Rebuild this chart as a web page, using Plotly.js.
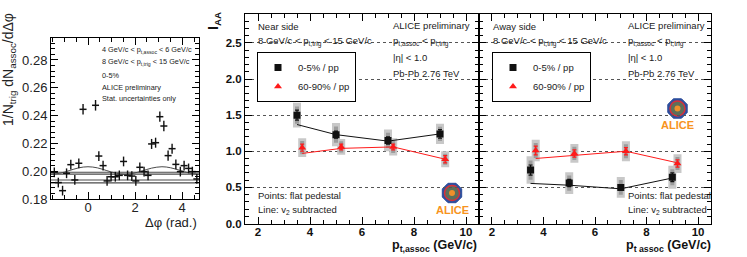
<!DOCTYPE html>
<html><head><meta charset="utf-8">
<script src="https://cdn.plot.ly/plotly-3.0.1.min.js"></script>
<style>html,body{margin:0;padding:0;background:#fff}#c{width:747px;height:257px}</style>
</head><body><div id="c"></div>
<script>
// ---------- Left panel: azimuthal correlation (0-5%) ----------
const dphi = [-1.43,-1.26,-1.08,-0.91,-0.73,-0.56,-0.39,-0.21,0.32,0.46,0.64,0.81,0.98,1.16,1.33,1.51,1.68,1.86,2.03,2.20,2.38,2.55,2.70,2.87,3.05,3.22,3.40,3.57,3.73,3.92,4.08,4.27,4.43,4.62];
const corr = [0.1992,0.1918,0.1860,0.1985,0.2047,0.1937,0.2057,0.2445,0.2474,0.2109,0.2040,0.1930,0.1960,0.1960,0.1970,0.2070,0.1970,0.1965,0.1930,0.2028,0.1997,0.1970,0.2196,0.2205,0.2392,0.2325,0.2112,0.2162,0.2049,0.1997,0.2040,0.2020,0.1997,0.1944];
const corrErr = [0.0035,0.0035,0.0035,0.0035,0.0035,0.0035,0.0035,0.0038,0.0038,0.0035,0.0035,0.0035,0.0035,0.0035,0.0035,0.0035,0.0035,0.0035,0.0035,0.0035,0.0035,0.0035,0.0036,0.0036,0.0037,0.0037,0.0036,0.0036,0.0035,0.0035,0.0035,0.0035,0.0035,0.0035];
const pedX = [-1.5708, 4.7124];
const pedLevels = [0.1992, 0.1979, 0.1937, 0.1916];
const v2X = [-1.57,-1.2,-0.8,-0.4,0,0.4,0.8,1.2,1.57,1.9,2.3,2.7,3.14,3.5,3.9,4.3,4.71];
const v2Y = [0.1978,0.1985,0.2004,0.2024,0.2032,0.2024,0.2004,0.1985,0.1978,0.1984,0.2002,0.2022,0.2032,0.2025,0.2006,0.1987,0.1978];

// ---------- I_AA panels ----------
const ptCentral = [3.5, 5.0, 7.0, 9.0];
const ptPeriph  = [3.7, 5.2, 7.2, 9.2];
// near side
const nearCentral     = [1.50, 1.23, 1.15, 1.24];
const nearCentralStat = [0.07, 0.05, 0.05, 0.06];
const nearCentralSys  = [0.17, 0.16, 0.15, 0.14];
const nearCentralV2   = [1.37, 1.23, 1.14, 1.24];
const nearPeriph      = [1.05, 1.06, 1.06, 0.89];
const nearPeriphStat  = [0.05, 0.04, 0.04, 0.05];
const nearPeriphSys   = [0.13, 0.11, 0.12, 0.11];
const nearPeriphV2    = [0.97, 1.04, 1.06, 0.89];
// away side
const awayCentral     = [0.74, 0.56, 0.50, 0.64];
const awayCentralStat = [0.07, 0.05, 0.04, 0.06];
const awayCentralSys  = [0.19, 0.15, 0.145, 0.16];
const awayCentralV2   = [0.555, 0.53, 0.48, 0.63];
const awayPeriph      = [1.01, 0.97, 1.00, 0.83];
const awayPeriphStat  = [0.06, 0.05, 0.05, 0.05];
const awayPeriphSys   = [0.15, 0.13, 0.14, 0.13];
const awayPeriphV2    = [0.90, 0.94, 1.00, 0.84];

const xTicksIAA = [2, 4, 6, 8, 10];
const yTicksIAA = [0, 0.5, 1, 1.5, 2, 2.5];
const yTickTextIAA = ['0.0','0.5','1.0','1.5','2.0','2.5'];
const labCentral = '0-5% / pp';
const labPeriph = '60-90% / pp';

// ---------- helpers ----------
const W = 747, H = 257;
const px = x => x / W;
const py = y => 1 - y / H;
const FONT = 'Liberation Sans, Arial, Helvetica, sans-serif';
const RED = '#ff1a1a';

const traces = [];
// left panel
pedLevels.forEach(v => traces.push({x: pedX, y: [v, v], xaxis: 'x', yaxis: 'y', mode: 'lines',
  line: {color: '#4a4a4a', width: 1.1}, showlegend: false, hoverinfo: 'skip'}));
traces.push({x: v2X, y: v2Y, xaxis: 'x', yaxis: 'y', mode: 'lines', line: {color: '#4a4a4a', width: 1, shape: 'spline'}, showlegend: false});
traces.push({x: dphi, y: corr, xaxis: 'x', yaxis: 'y', mode: 'markers',
  marker: {symbol: 'line-ew-open', size: 5, color: '#111', line: {color: '#111', width: 1.5}},
  error_y: {type: 'data', array: corrErr, color: '#111', thickness: 1.4, width: 0}, showlegend: false});

function iaaPanel(xa, ya, c, cStat, cSys, cV2, p, pStat, pSys, pV2, leg) {
  const sysTr = (xs, ys, sys, col, th) => ({x: xs, y: ys, xaxis: xa, yaxis: ya, mode: 'markers',
    marker: {size: 1, color: 'rgba(0,0,0,0)'}, error_y: {type: 'data', array: sys, color: col, thickness: th, width: 0},
    showlegend: false, hoverinfo: 'skip'});
  traces.push(sysTr(ptCentral, c, cSys, '#c8c8c8', 8));
  traces.push(sysTr(ptPeriph, p, pSys, '#c8c8c8', 8));
  traces.push(sysTr(ptCentral, c, cSys.map(v => v * 0.7), '#9c9c9c', 4));
  traces.push(sysTr(ptPeriph, p, pSys.map(v => v * 0.7), '#9c9c9c', 4));
  traces.push({x: ptCentral, y: cV2, xaxis: xa, yaxis: ya, mode: 'lines', line: {color: '#111', width: 1}, showlegend: false});
  traces.push({x: ptPeriph, y: pV2, xaxis: xa, yaxis: ya, mode: 'lines', line: {color: RED, width: 1}, showlegend: false});
  traces.push({x: ptCentral, y: c, xaxis: xa, yaxis: ya, mode: 'markers', name: labCentral, legend: leg, showlegend: true,
    marker: {symbol: 'square', size: 7, color: '#111'},
    error_y: {type: 'data', array: cStat, color: '#111', thickness: 1.2, width: 2}});
  traces.push({x: ptPeriph, y: p, xaxis: xa, yaxis: ya, mode: 'markers', name: labPeriph, legend: leg, showlegend: true,
    marker: {symbol: 'triangle-up', size: 7, color: RED},
    error_y: {type: 'data', array: pStat, color: RED, thickness: 1.2, width: 2}});
}
iaaPanel('x2', 'y2', nearCentral, nearCentralStat, nearCentralSys, nearCentralV2, nearPeriph, nearPeriphStat, nearPeriphSys, nearPeriphV2, 'legend');
iaaPanel('x3', 'y3', awayCentral, awayCentralStat, awayCentralSys, awayCentralV2, awayPeriph, awayPeriphStat, awayPeriphSys, awayPeriphV2, 'legend2');

const axBase = {showline: true, linecolor: '#000', linewidth: 1, mirror: 'ticks', ticks: 'inside', ticklen: 7,
  tickcolor: '#000', tickwidth: 1, zeroline: false, showgrid: false, fixedrange: true};

const iaaX = (dom) => Object.assign({}, axBase, {domain: dom, range: [1.5, 10.5], tickvals: xTicksIAA,
  tickfont: {family: FONT, size: 11.5, color: '#111', weight: 700}, ticklabelstandoff: -2,
  minor: {dtick: 0.5, tick0: 0, ticks: 'inside', ticklen: 4, tickcolor: '#000'}});
const iaaY = (dom, anchor, labels) => Object.assign({}, axBase, {domain: dom, range: [0, 2.9], anchor: anchor,
  tickvals: yTicksIAA, ticktext: yTickTextIAA, showticklabels: labels,
  tickfont: {family: FONT, size: 11.5, color: '#111', weight: 700},
  showgrid: true, gridcolor: '#555', griddash: 'dot', gridwidth: 1,
  minor: {dtick: 0.1, tick0: 0, ticks: 'inside', ticklen: 4, tickcolor: '#000', showgrid: false}});

const yDomIAA = [py(223.5), py(14)];

const annotations = [];
const ann = (x, y, text, size, opts) => annotations.push(Object.assign({xref: 'paper', yref: 'paper', x: px(x), y: py(y),
  text: text, showarrow: false, xanchor: 'left', yanchor: 'middle', font: {family: FONT, size: size, color: '#222'}}, opts || {}));

// left panel texts
ann(9, 70, '1/N<sub>trig</sub> dN<sub>assoc</sub>/dΔφ', 14, {textangle: -90, xanchor: 'center', font: {family: FONT, size: 14, color: '#222'}});
ann(199, 222, 'Δφ (rad.)', 13, {xanchor: 'right'});
ann(100, 50, '4 GeV/c &lt; p<sub>t,assoc</sub> &lt; 6 GeV/c', 7.3);
ann(100, 62, '8 GeV/c &lt; p<sub>t,trig</sub> &lt; 15 GeV/c', 7.3);
ann(100, 75, '0-5%', 7.3);
ann(100, 87, 'ALICE preliminary', 7.3);
ann(100, 99, 'Stat. uncertainties only', 7.3);

// IAA texts
ann(214, 21, 'I<sub>AA</sub>', 14, {textangle: -90, xanchor: 'center', font: {family: FONT, size: 14, color: '#111', weight: 700}});
[[0, 'Near side'], [235, 'Away side']].forEach(([dx, side]) => {
  ann(256 + dx, 27, side, 9.5);
  ann(256 + dx, 41, '8 GeV/c &lt; p<sub>t,trig</sub> &lt; 15 GeV/c', 9.5);
  ann(391 + dx, 26, 'ALICE preliminary', 9.5);
  ann(391 + dx, 41, 'p<sub>t,assoc</sub> &lt; p<sub>t,trig</sub>', 9.5);
  ann(391 + dx, 57, '|η| &lt; 1.0', 9.5);
  ann(391 + dx, 73, 'Pb-Pb 2.76 TeV', 9.5);
});
ann(256, 195, 'Points: flat pedestal', 9.5);
ann(256, 210, 'Line: v<sub>2</sub> subtracted', 9.5);
ann(626, 195, 'Points: flat pedestal', 9.5);
ann(626, 210, 'Line: v<sub>2</sub> subtracted', 9.5);
ann(479, 246, 'p<sub>t,assoc</sub> (GeV/c)', 12.5, {xanchor: 'right', font: {family: FONT, size: 12.5, color: '#111', weight: 700}});
ann(713, 246, 'p<sub>t assoc</sub> (GeV/c)', 12.5, {xanchor: 'right', font: {family: FONT, size: 12.5, color: '#111', weight: 700}});

// ALICE logos (decoration)
const shapes = [];
function logo(cx, cy, wx0, wx1) {
  shapes.push({type: 'rect', xref: 'paper', yref: 'paper', layer: 'between', x0: px(wx0), x1: px(wx1), y0: py(cy + 26), y1: py(cy - 13),
    fillcolor: '#fff', line: {width: 0}});
  const r = 10.5, pts = [];
  for (let i = 0; i < 8; i++) { const a = Math.PI / 8 + i * Math.PI / 4; pts.push([cx + r * Math.cos(a), cy + r * Math.sin(a)]); }
  const path = 'M' + pts.map(p => px(p[0]).toFixed(5) + ',' + py(p[1]).toFixed(5)).join('L') + 'Z';
  shapes.push({type: 'path', xref: 'paper', yref: 'paper', layer: 'between', path: path, fillcolor: '#2d4f9e', line: {color: '#2a4a9a', width: 1}});
  shapes.push({type: 'circle', xref: 'paper', yref: 'paper', layer: 'between', x0: px(cx - 7.5), x1: px(cx + 7.5), y0: py(cy + 7.5), y1: py(cy - 7.5),
    fillcolor: '#5d6f5a', line: {color: '#d8303a', width: 1.5}});
  shapes.push({type: 'circle', xref: 'paper', yref: 'paper', layer: 'between', x0: px(cx - 3), x1: px(cx + 3), y0: py(cy + 3), y1: py(cy - 3),
    fillcolor: '#f0902a', line: {width: 0}});
  annotations.push({xref: 'paper', yref: 'paper', x: px(cx), y: py(cy + 16.5), text: 'ALICE', showarrow: false, xanchor: 'center', yanchor: 'middle',
    font: {family: FONT, size: 11, color: '#f7941d', weight: 700}});
}
logo(452, 193, 433, 477);
logo(677.5, 108.5, 663, 697);

const legBase = {bgcolor: '#fff', bordercolor: '#000', borderwidth: 1, xanchor: 'left', yanchor: 'top',
  font: {family: FONT, size: 9.5, color: '#222'}, itemwidth: 30, tracegroupgap: 0};

const layout = {
  width: W, height: H, margin: {l: 0, r: 0, t: 0, b: 0}, paper_bgcolor: '#fff', plot_bgcolor: '#fff',
  font: {family: FONT, color: '#222'},
  xaxis: Object.assign({}, axBase, {domain: [px(51), px(199)], range: [-1.5708, 4.7124], anchor: 'y',
    tickvals: [0, 2, 4], tickfont: {family: FONT, size: 13, color: '#222'}, ticklabelstandoff: -4,
    minor: {dtick: 0.5, tick0: 0, ticks: 'inside', ticklen: 4, tickcolor: '#000'}}),
  yaxis: Object.assign({}, axBase, {domain: [py(199), py(38)], range: [0.18, 0.2958], anchor: 'x',
    tickvals: [0.18, 0.20, 0.22, 0.24, 0.26, 0.28], ticktext: ['0.18','0.20','0.22','0.24','0.26','0.28'],
    tickfont: {family: FONT, size: 13, color: '#222'},
    minor: {dtick: 0.004, tick0: 0.18, ticks: 'inside', ticklen: 4, tickcolor: '#000'}}),
  xaxis2: Object.assign(iaaX([px(245), px(479)]), {anchor: 'y2'}),
  yaxis2: iaaY(yDomIAA, 'x2', true),
  xaxis3: Object.assign(iaaX([px(479), px(711)]), {anchor: 'y3'}),
  yaxis3: iaaY(yDomIAA, 'x3', false),
  legend: Object.assign({}, legBase, {x: px(257), y: py(52)}),
  legend2: Object.assign({}, legBase, {x: px(492), y: py(52)}),
  annotations: annotations, shapes: shapes
};
Plotly.newPlot('c', traces, layout, {staticPlot: true, displayModeBar: false});
</script></body></html>
